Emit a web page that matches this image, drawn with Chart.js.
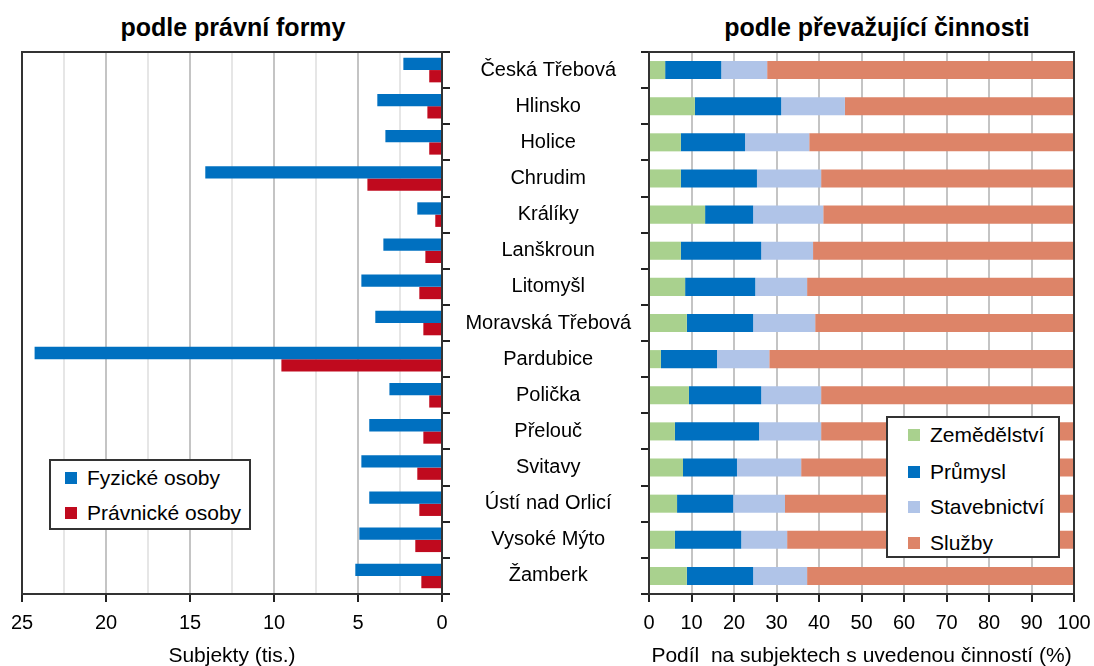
<!DOCTYPE html>
<html>
<head>
<meta charset="utf-8">
<script src="https://cdn.jsdelivr.net/npm/chart.js@4/dist/chart.umd.min.js"></script>
<style>
  html, body { margin: 0; padding: 0; background: #fff; }
  #stage { position: relative; width: 1094px; height: 666px; overflow: hidden; font-family: "Liberation Sans", Arial, sans-serif; }
  .wrap { position: absolute; top: 0; height: 666px; }
  .title { position: absolute; top: 13px; font-weight: bold; font-size: 25px; line-height: 29px; text-align: center; color: #000; white-space: nowrap; }
  .legend { position: absolute; background: #fff; border: 2px solid #333; box-sizing: border-box; font-size: 21px; color: #000; }
  .legend .item { position: absolute; white-space: nowrap; line-height: 24px; }
  .legend .sw { display: inline-block; width: 12px; height: 12px; margin-right: 10px; vertical-align: 1px; }
</style>
</head>
<body>
<div id="stage">
  <div class="title" style="left:22px; width:422px;">podle právní formy</div>
  <div class="title" style="left:660px; width:434px;">podle převažující činnosti</div>
  <div class="wrap" style="left:0; width:460px;"><canvas id="left"></canvas></div>
  <div class="wrap" style="left:460px; width:634px;"><canvas id="right"></canvas></div>
  <div class="legend" id="legLeft" style="left:49px; top:459px; width:202px; height:71px;"></div>
  <div class="legend" id="legRight" style="left:886px; top:416px; width:174px; height:142px;"></div>
</div>
<script>
const categories = ["Česká Třebová","Hlinsko","Holice","Chrudim","Králíky","Lanškroun","Litomyšl","Moravská Třebová","Pardubice","Polička","Přelouč","Svitavy","Ústí nad Orlicí","Vysoké Mýto","Žamberk"];

// left chart: subjects in thousands
const fyzicke   = [2.30, 3.85, 3.37, 14.09, 1.47, 3.49, 4.80, 3.97, 24.25, 3.13, 4.33, 4.80, 4.33, 4.92, 5.16];
const pravnicke = [0.76, 0.87, 0.76, 4.44, 0.40, 0.99, 1.35, 1.11, 9.56, 0.76, 1.11, 1.47, 1.35, 1.59, 1.23];

// right chart: shares in %
const zemedelstvi    = [3.8, 10.8, 7.5, 7.5, 13.2, 7.5, 8.5, 8.9, 2.8, 9.4, 6.1, 8.0, 6.6, 6.1, 8.9];
const prumysl        = [13.2, 20.3, 15.1, 17.9, 11.3, 18.9, 16.5, 15.6, 13.2, 17.0, 19.8, 12.7, 13.2, 15.6, 15.6];
const stavebnictvi   = [10.8, 15.0, 15.1, 15.1, 16.5, 12.2, 12.2, 14.6, 12.3, 14.1, 14.6, 15.1, 12.2, 10.8, 12.7];
const sluzby         = [72.2, 53.9, 62.3, 59.5, 59.0, 61.4, 62.8, 60.9, 71.7, 59.5, 59.5, 64.2, 68.0, 67.5, 62.8];

const leftTicks = [0, 5, 10, 15, 20, 25];
const rightTicks = [0, 10, 20, 30, 40, 50, 60, 70, 80, 90, 100];

const FONT = "'Liberation Sans', Arial, sans-serif";
Chart.defaults.font.family = FONT;
Chart.defaults.color = '#000';

const frame = {
  id: 'frame',
  afterDatasetsDraw(chart) {
    const a = chart.chartArea, ctx = chart.ctx;
    ctx.save();
    ctx.strokeStyle = '#333';
    ctx.lineWidth = 2;
    ctx.strokeRect(a.left, a.top, a.right - a.left, a.bottom - a.top);
    ctx.restore();
  }
};

function fixSize(prop, v) { return function(scale) { scale[prop] = v; }; }
function fixX(h) {
  return function(scale) { scale.height = h; scale.paddingLeft = 0; scale.paddingRight = 0; };
}

const leftColors = ['#0070C0', '#C00A1E'];
const leftChart = new Chart(document.getElementById('left'), {
  type: 'bar',
  data: {
    labels: categories,
    datasets: [
      { label: 'Fyzické osoby', data: fyzicke, backgroundColor: leftColors[0] },
      { label: 'Právnické osoby', data: pravnicke, backgroundColor: leftColors[1] }
    ]
  },
  options: {
    indexAxis: 'y',
    responsive: true, maintainAspectRatio: false, animation: false,
    layout: { padding: { left: 22, top: 52, right: 0, bottom: 0 } },
    datasets: { bar: { categoryPercentage: 0.68, barPercentage: 1.0 } },
    plugins: { legend: { display: false }, tooltip: { enabled: false } },
    scales: {
      x: {
        reverse: true, min: 0, max: 25,
        afterFit: fixX(72),
        afterBuildTicks(scale) {
          const t = [];
          for (let v = 0; v <= 25; v += 2.5) t.push({ value: v });
          scale.ticks = t;
        },
        ticks: {
          autoSkip: false, maxRotation: 0, padding: 9,
          font: { size: 20 },
          callback: v => leftTicks.includes(v) ? String(v) : ''
        },
        grid: {
          color: c => (c.tick && leftTicks.includes(c.tick.value)) ? '#c4c4c4' : '#e6e6e6',
          lineWidth: 2,
          tickColor: c => (c.tick && leftTicks.includes(c.tick.value)) ? '#222' : 'rgba(0,0,0,0)',
          tickLength: 8
        },
        border: { display: false },
        title: { display: true, text: 'Subjekty (tis.)', font: { size: 21 }, padding: { top: 0, bottom: -3 } }
      },
      y: {
        position: 'right',
        afterFit: fixSize('width', 18),
        ticks: { display: false },
        grid: { offset: true, drawOnChartArea: false, drawTicks: true, tickLength: 8, tickColor: '#222', lineWidth: 2 },
        border: { display: false }
      }
    }
  },
  plugins: [frame]
});

const rightColors = ['#A9D18E', '#0070C0', '#B0C4E8', '#DD8468'];
const rightLabels = ['Zemědělství', 'Průmysl', 'Stavebnictví', 'Služby'];
const rightData = [zemedelstvi, prumysl, stavebnictvi, sluzby];
const rightChart = new Chart(document.getElementById('right'), {
  type: 'bar',
  data: {
    labels: categories,
    datasets: rightLabels.map((l, i) => ({ label: l, data: rightData[i], backgroundColor: rightColors[i] }))
  },
  options: {
    indexAxis: 'y',
    responsive: true, maintainAspectRatio: false, animation: false,
    layout: { padding: { left: 0, top: 52, right: 20, bottom: 0 } },
    datasets: { bar: { categoryPercentage: 1.0, barPercentage: 0.5 } },
    plugins: { legend: { display: false }, tooltip: { enabled: false } },
    scales: {
      x: {
        stacked: true, min: 0, max: 100,
        afterFit: fixX(72),
        afterBuildTicks(scale) { scale.ticks = rightTicks.map(v => ({ value: v })); },
        ticks: { autoSkip: false, maxRotation: 0, padding: 9, font: { size: 20 } },
        grid: { color: '#c4c4c4', lineWidth: 2, tickColor: '#222', tickLength: 8 },
        border: { display: false },
        title: { display: true, text: 'Podíl  na subjektech s uvedenou činností (%)', font: { size: 21 }, padding: { top: 0, bottom: -3 } }
      },
      y: {
        stacked: true,
        afterFit: fixSize('width', 189),
        ticks: { crossAlign: 'center', padding: 10, font: { size: 20 }, autoSkip: false },
        grid: { offset: true, drawOnChartArea: false, drawTicks: true, tickLength: 8, tickColor: '#222', lineWidth: 2 },
        border: { display: false }
      }
    }
  },
  plugins: [frame]
});

function buildLegend(el, chart, left, rowTops) {
  chart.data.datasets.forEach((ds, i) => {
    const d = document.createElement('div');
    d.className = 'item';
    d.style.left = left + 'px';
    d.style.top = rowTops[i] + 'px';
    const sw = document.createElement('span');
    sw.className = 'sw';
    sw.style.background = ds.backgroundColor;
    d.appendChild(sw);
    d.appendChild(document.createTextNode(ds.label));
    el.appendChild(d);
  });
}
buildLegend(document.getElementById('legLeft'), leftChart, 14, [5, 40]);
buildLegend(document.getElementById('legRight'), rightChart, 20, [5, 42, 77, 113]);
</script>
</body>
</html>
